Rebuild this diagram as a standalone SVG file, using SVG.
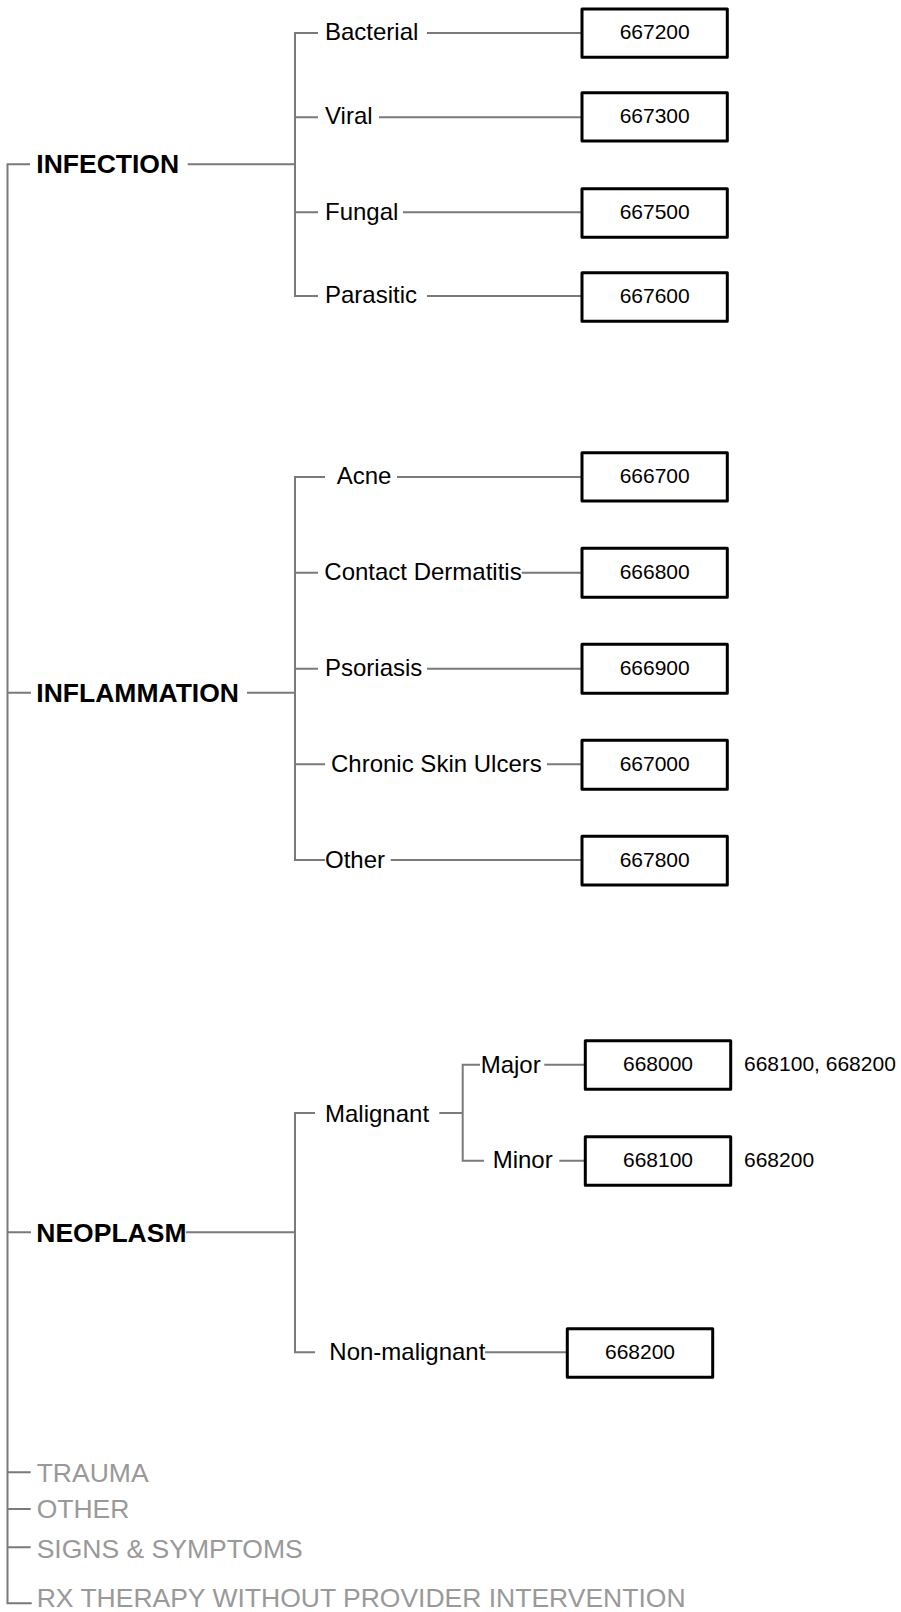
<svg xmlns="http://www.w3.org/2000/svg" width="901" height="1612" viewBox="0 0 901 1612">
<style>
.ln{stroke:#7a7a7a;stroke-width:2;fill:none}
.bx{fill:#fff;stroke:#000;stroke-width:3;stroke-linejoin:round}
.top{font-family:"Liberation Sans",Arial,sans-serif;font-size:26.5px;font-weight:bold;fill:#000}
.gr{font-family:"Liberation Sans",Arial,sans-serif;font-size:26.5px;fill:#999}
.lb{font-family:"Liberation Sans",Arial,sans-serif;font-size:24px;fill:#000}
.num{font-family:"Liberation Sans",Arial,sans-serif;font-size:21px;fill:#000}
.mid{text-anchor:middle}
</style>
<rect width="901" height="1612" fill="#fff"/>
<g id="connectors">
<path class="ln" d="M30,164.3 H7.5 V1603.3 H31.7"/>
<path class="ln" d="M7.5,692.7 H31 M7.5,1232.3 H31 M7.5,1472.3 H30.7 M7.5,1509 H30.7 M7.5,1547.3 H30.7"/>
<path class="ln" d="M187.7,164.3 H295 M247,692.7 H295 M186,1232.3 H295"/>
<path class="ln" d="M318,33 H295 V296 H318 M295,117.3 H318 M295,212.3 H318"/>
<path class="ln" d="M427,33 H582 M379,117.3 H582 M403,212.3 H582 M427,296 H582"/>
<path class="ln" d="M325,477 H295 V860 H325 M295,572.7 H318 M295,668.7 H318 M295,764.3 H325"/>
<path class="ln" d="M397,477 H582 M521.7,572.7 H582 M427,668.7 H582 M547,764.3 H582 M390.7,860 H582"/>
<path class="ln" d="M315,1113 H295 V1352.3 H315"/>
<path class="ln" d="M439.3,1113 H462.7 M480,1064.7 H462.7 V1160.7 H484"/>
<path class="ln" d="M544.3,1064.7 H585.3 M559.3,1160.7 H585.3 M485,1352.3 H567.3"/>
</g>
<g id="infection"><text class="top" x="36.3" y="172.7">INFECTION</text></g>
<g id="inflammation"><text class="top" x="36.3" y="701.7">INFLAMMATION</text></g>
<g id="neoplasm"><text class="top" x="36.3" y="1241.7">NEOPLASM</text></g>
<g id="trauma"><text class="gr" x="36.7" y="1481.7">TRAUMA</text></g>
<g id="other-top"><text class="gr" x="36.7" y="1517.7">OTHER</text></g>
<g id="signs"><text class="gr" x="36.7" y="1557.7">SIGNS &amp; SYMPTOMS</text></g>
<g id="rx"><text class="gr" x="36.7" y="1606.5">RX THERAPY WITHOUT PROVIDER INTERVENTION</text></g>
<g id="bacterial"><text class="lb" x="325" y="40.3">Bacterial</text></g>
<g id="viral"><text class="lb" x="325" y="124.3">Viral</text></g>
<g id="fungal"><text class="lb" x="325" y="220">Fungal</text></g>
<g id="parasitic"><text class="lb" x="325" y="302.5">Parasitic</text></g>
<g id="acne"><text class="lb" x="336.7" y="484">Acne</text></g>
<g id="contact"><text class="lb" x="324.3" y="580">Contact Dermatitis</text></g>
<g id="psoriasis"><text class="lb" x="325" y="676">Psoriasis</text></g>
<g id="chronic"><text class="lb" x="331" y="771.7">Chronic Skin Ulcers</text></g>
<g id="other-infl"><text class="lb" x="325" y="867.7">Other</text></g>
<g id="malignant"><text class="lb" x="325" y="1122.3">Malignant</text></g>
<g id="major"><text class="lb" x="480.7" y="1073">Major</text></g>
<g id="minor"><text class="lb" x="492.7" y="1168">Minor</text></g>
<g id="nonmalignant"><text class="lb" x="329.3" y="1360">Non-malignant</text></g>
<g id="b667200"><rect class="bx" x="582" y="9" width="145.3" height="48.3"/><text class="num mid" x="654.7" y="39.3">667200</text></g>
<g id="b667300"><rect class="bx" x="582" y="92.7" width="145.3" height="48.3"/><text class="num mid" x="654.7" y="123.3">667300</text></g>
<g id="b667500"><rect class="bx" x="582" y="188.7" width="145.3" height="48.6"/><text class="num mid" x="654.7" y="219.3">667500</text></g>
<g id="b667600"><rect class="bx" x="582" y="272.7" width="145.3" height="48.5"/><text class="num mid" x="654.7" y="303.3">667600</text></g>
<g id="b666700"><rect class="bx" x="582" y="452.7" width="145.3" height="48.3"/><text class="num mid" x="654.7" y="483.3">666700</text></g>
<g id="b666800"><rect class="bx" x="582" y="548.3" width="145.3" height="49"/><text class="num mid" x="654.7" y="579.3">666800</text></g>
<g id="b666900"><rect class="bx" x="582" y="644.3" width="145.3" height="49"/><text class="num mid" x="654.7" y="675.3">666900</text></g>
<g id="b667000"><rect class="bx" x="582" y="740.3" width="145.3" height="49"/><text class="num mid" x="654.7" y="771.3">667000</text></g>
<g id="b667800"><rect class="bx" x="582" y="836.3" width="145.3" height="48.7"/><text class="num mid" x="654.7" y="867.3">667800</text></g>
<g id="b668000"><rect class="bx" x="585.3" y="1040.7" width="145.4" height="48.6"/><text class="num mid" x="658" y="1071">668000</text><text class="num" x="744" y="1071">668100, 668200</text></g>
<g id="b668100"><rect class="bx" x="585.3" y="1136.7" width="145.4" height="48.6"/><text class="num mid" x="658" y="1166.7">668100</text><text class="num" x="744" y="1166.7">668200</text></g>
<g id="b668200"><rect class="bx" x="567.3" y="1328.7" width="145.4" height="48.6"/><text class="num mid" x="640" y="1359">668200</text></g>
</svg>
